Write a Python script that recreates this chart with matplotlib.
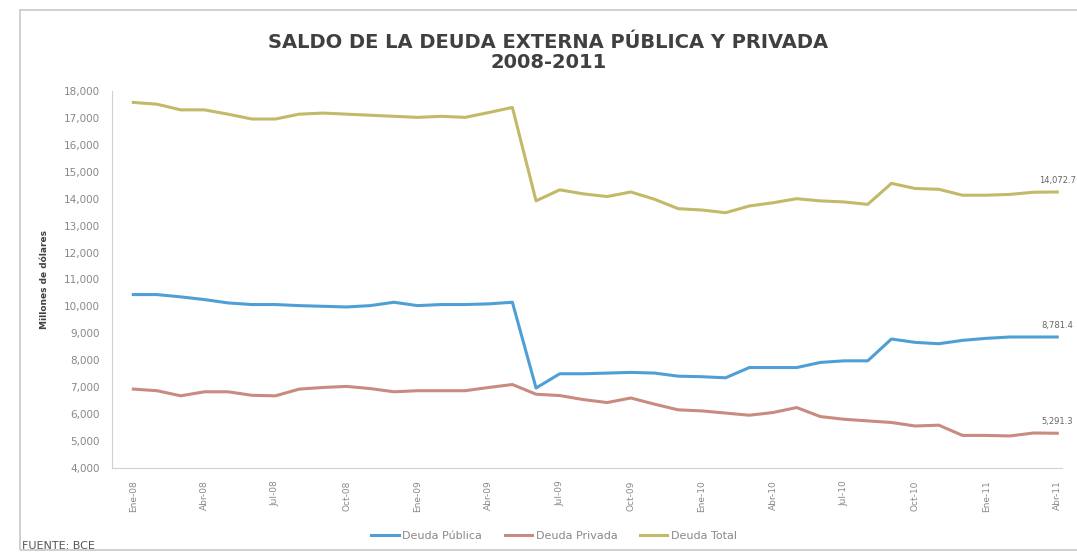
import numpy as np
import matplotlib
matplotlib.use("Agg")
from matplotlib import pyplot as plt
from matplotlib.patches import Rectangle

## data (millones de dolares), monthly Ene-08 .. Abr-11

meses = ["Ene-08", "Feb-08", "Mar-08", "Abr-08", "May-08", "Jun-08", "Jul-08", "Ago-08",
         "Sep-08", "Oct-08", "Nov-08", "Dic-08", "Ene-09", "Feb-09", "Mar-09", "Abr-09",
         "May-09", "Jun-09", "Jul-09", "Ago-09", "Sep-09", "Oct-09", "Nov-09", "Dic-09",
         "Ene-10", "Feb-10", "Mar-10", "Abr-10", "May-10", "Jun-10", "Jul-10", "Ago-10",
         "Sep-10", "Oct-10", "Nov-10", "Dic-10", "Ene-11", "Feb-11", "Mar-11", "Abr-11"]

deuda_publica = [10440, 10440, 10355, 10255, 10130, 10070, 10070, 10030, 10005, 9980,
                 10030, 10155, 10030, 10070, 10070, 10095, 10155, 6970, 7500, 7500,
                 7525, 7550, 7525, 7410, 7390, 7350, 7730, 7730, 7730, 7920,
                 7980, 7980, 8790, 8665, 8615, 8740, 8815, 8865, 8865, 8865]

deuda_privada = [6930, 6870, 6680, 6830, 6830, 6700, 6680, 6930, 6990, 7030,
                 6950, 6830, 6870, 6870, 6870, 6990, 7100, 6740, 6690, 6540,
                 6430, 6600, 6370, 6160, 6120, 6040, 5960, 6060, 6245, 5910,
                 5810, 5750, 5690, 5560, 5590, 5210, 5210, 5190, 5300, 5290]

deuda_total = [17575, 17510, 17300, 17300, 17140, 16960, 16960, 17140, 17180, 17140,
               17100, 17060, 17020, 17060, 17020, 17200, 17390, 13920, 14330, 14180,
               14080, 14250, 13980, 13630, 13580, 13480, 13730, 13850, 14000, 13920,
               13880, 13790, 14570, 14380, 14350, 14130, 14130, 14160, 14240, 14250]

# end-of-series labels as printed on the chart
etiquetas_finales = ["8,781.4", "5,291.3", "14,072.7"]

series = [("Deuda Pública", deuda_publica, "#4f9fd6"),
          ("Deuda Privada", deuda_privada, "#c98a80"),
          ("Deuda Total", deuda_total, "#c2ba68")]

## figure

fig = plt.figure(figsize=(10.77, 5.6), dpi=100)
fig.patch.set_facecolor("white")

# outer chart border
fig.add_artist(Rectangle((20/1077, 10/560), 1.0, 540/560, transform=fig.transFigure,
                         fill=False, edgecolor="#c8c8c8", lw=1.2))

ax = fig.add_axes([112/1077, 1 - 468/560, 950/1077, 377/560])
x = np.arange(len(meses))

lines = []
for (name, vals, col), lab in zip(series, etiquetas_finales):
    ln, = ax.plot(x, vals, color=col, lw=2.2, label=name, solid_joinstyle="round")
    lines.append(ln)
    ax.annotate(lab, (x[-1], vals[-1]), xytext=(0, 5),
                textcoords="offset points", ha="center", va="bottom",
                fontsize=6, color="#666666", annotation_clip=False)

ax.set_xlim(-0.9, 39.2)
ax.set_ylim(4000, 18000)
ax.set_yticks(np.arange(4000, 18001, 1000))
ax.set_yticklabels([f"{v:,}" for v in range(4000, 18001, 1000)])
ax.set_xticks(x[::3])
ax.set_xticklabels(meses[::3], rotation=90)
ax.tick_params(axis="y", labelsize=7.5, colors="#888888", length=0, pad=9)
ax.tick_params(axis="x", labelsize=6.5, colors="#888888", length=0, pad=9)

for s in ["top", "right"]:
    ax.spines[s].set_visible(False)
for s in ["left", "bottom"]:
    ax.spines[s].set_color("#d0d0d0")

ax.set_ylabel("Millones de dólares", fontsize=6.5, fontweight="bold", color="#404040",
              labelpad=10)

fig.text(0.509, 1 - 42/560, "SALDO DE LA DEUDA EXTERNA PÚBLICA Y PRIVADA",
         ha="center", va="center", fontsize=14, fontweight="bold", color="#404040")
fig.text(0.509, 1 - 63/560, "2008-2011",
         ha="center", va="center", fontsize=14, fontweight="bold", color="#404040")

fig.legend(handles=lines, loc="center", bbox_to_anchor=(554/1077, 1 - 536/560), ncol=3,
           frameon=False, fontsize=8, handlelength=2.5, columnspacing=2,
           handletextpad=0.3, labelcolor="#888888")

fig.text(22/1077, 1 - 546/560, "FUENTE: BCE", ha="left", va="center",
         fontsize=8, color="#555555")

fig.savefig("out.png", dpi=100)
